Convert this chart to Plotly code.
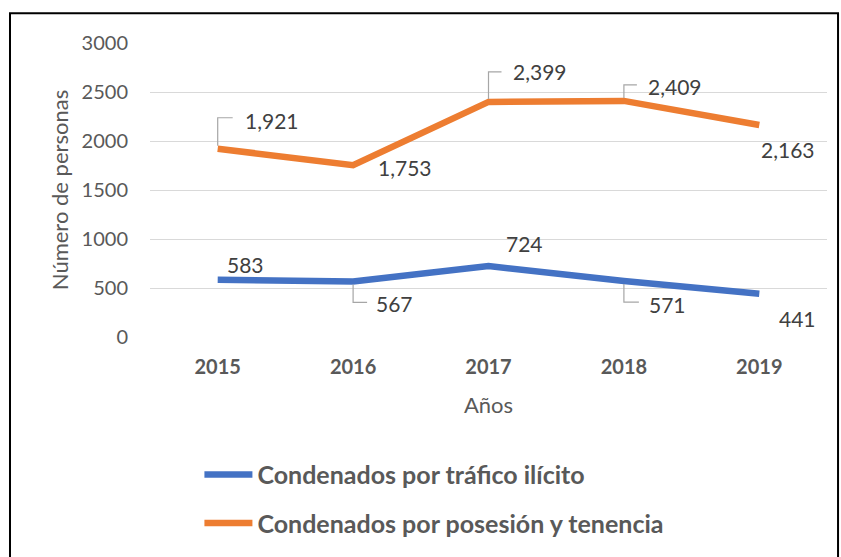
import plotly.graph_objects as go

years = ["2015", "2016", "2017", "2018", "2019"]
trafico = [583, 567, 724, 571, 441]
posesion = [1921, 1753, 2399, 2409, 2163]
name_trafico = "Condenados por tráfico ilícito"
name_posesion = "Condenados por posesión y tenencia"
y_ticks = [0, 500, 1000, 1500, 2000, 2500, 3000]

BLUE = "#4472C4"
ORANGE = "#ED7D31"
TXT = "#595959"
LBL = "#404040"
FONT = "Lato, Open Sans, sans-serif"

xi = list(range(len(years)))

fig = go.Figure()
fig.add_trace(go.Scatter(x=xi, y=trafico, mode="lines", name=name_trafico,
                         line=dict(color=BLUE, width=6.5), legendgroup="a"))
fig.add_trace(go.Scatter(x=xi, y=posesion, mode="lines", name=name_posesion,
                         line=dict(color=ORANGE, width=6.5), legendgroup="b"))

# label placement (pixel offsets: dx to left edge, dy to center, leader path or None)
style_pos = [(25, 28, "M0,3 L0,31 L15,31"), (23, -2, None), (22, 30, "M0,3 L0,30 L13,30"),
             (22, 14, "M0,3 L0,16 L13,16"), (0, -24, None)]
style_tra = [(7, 15, None), (21, -22, "M0,-3 L0,-21 L14,-21"), (15, 23, None),
             (23, -23, "M0,-3 L0,-21 L15,-21"), (18, -25, None)]

annotations = []
shapes = []
for vals, sty in ((posesion, style_pos), (trafico, style_tra)):
    for i, v, (dx, dy, path) in zip(xi, vals, sty):
        annotations.append(dict(x=i, y=v, xref="x", yref="y", text=f"{v:,}",
                                showarrow=False, xanchor="left", yanchor="middle",
                                xshift=dx, yshift=dy,
                                font=dict(family=FONT, size=21, color=LBL)))
        if path:
            shapes.append(dict(type="path", xref="x", yref="y", xsizemode="pixel",
                               ysizemode="pixel", xanchor=i, yanchor=v, path=path,
                               line=dict(color="#A6A6A6", width=1.2)))

# outer border
shapes.append(dict(type="rect", xref="paper", yref="paper", x0=-0.2068, x1=1.0163,
                   y0=-0.76, y1=1.101, line=dict(color="black", width=2), layer="below"))

fig.update_layout(
    width=841, height=557,
    margin=dict(l=150, r=14, t=43, b=217),
    paper_bgcolor="white", plot_bgcolor="white",
    font=dict(family=FONT, color=TXT, size=20),
    xaxis=dict(range=[-0.5, 4.5], tickvals=xi, ticktext=years, showgrid=False,
               showline=False, zeroline=False, ticks="", ticklabelstandoff=16,
               tickfont=dict(size=20, color=TXT, family=FONT, weight="bold"),
               title=dict(text="Años", font=dict(size=22, color=TXT), standoff=20)),
    yaxis=dict(range=[0, 3000], tickvals=y_ticks, showgrid=True, gridcolor="#D9D9D9",
               gridwidth=1, zeroline=False, showline=False, ticks="",
               ticklabelstandoff=21,
               tickfont=dict(size=20, color=TXT),
               title=dict(text="Número de personas", font=dict(size=22, color=TXT), standoff=6)),
    legend=dict(orientation="v", x=0.073, y=-0.39, xanchor="left", yanchor="top",
                font=dict(size=25, color=TXT, family=FONT, weight="bold"),
                itemwidth=48, tracegroupgap=13, bgcolor="rgba(0,0,0,0)"),
    annotations=annotations,
    shapes=shapes,
    showlegend=True,
)

fig.write_html("out.html", config={"displayModeBar": False},
               post_script="document.body.style.margin='0';")
